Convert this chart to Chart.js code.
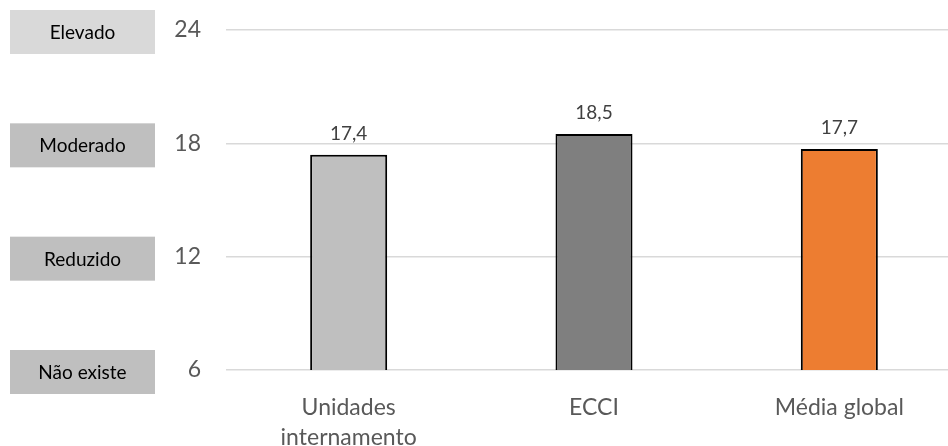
<!DOCTYPE html>
<html><head><meta charset="utf-8">
<script src="https://cdn.jsdelivr.net/npm/chart.js@4"></script>
<style>
html,body{margin:0;padding:0;background:#fff;overflow:hidden}
#wrap{width:962px;height:446px;position:relative}
</style>
</head><body>
<div id="wrap"><canvas id="c"></canvas></div>
<script>
// Risk score per unit, shown against the qualitative level bands
const categories = [["Unidades", "internamento"], "ECCI", "Média global"];
const scores = [17.4, 18.5, 17.7];
const tickValues = [6, 12, 18, 24];
const levelNames = ["Não existe", "Reduzido", "Moderado", "Elevado"];

const barColors = ["#bfbfbf", "#7f7f7f", "#ed7d31"];
const levelColors = ["#bfbfbf", "#bfbfbf", "#bfbfbf", "#d9d9d9"];
const FONT = "Lato, 'Open Sans', sans-serif";

const fmt = v => v.toFixed(1).replace('.', ',');

// Grey boxes naming each level, drawn beside the matching tick
const levelBoxes = {
  id: 'levelBoxes',
  afterDraw(chart) {
    const ctx = chart.ctx, y = chart.scales.y;
    ctx.save();
    ctx.font = "19px " + FONT;
    ctx.textAlign = 'center';
    ctx.textBaseline = 'middle';
    tickValues.forEach((t, i) => {
      const cy = y.getPixelForValue(t) + 2;
      const bx = 10, bw = 145, bh = 44;
      ctx.fillStyle = levelColors[i];
      ctx.fillRect(bx, cy - bh / 2, bw, bh);
      ctx.fillStyle = '#000';
      ctx.fillText(levelNames[i], bx + bw / 2, cy + 1);
    });
    ctx.restore();
  }
};

// Value printed above each bar
const valueLabels = {
  id: 'valueLabels',
  afterDatasetsDraw(chart) {
    const ctx = chart.ctx;
    const meta = chart.getDatasetMeta(0);
    ctx.save();
    ctx.font = "19px " + FONT;
    ctx.fillStyle = '#404040';
    ctx.textAlign = 'center';
    ctx.textBaseline = 'middle';
    meta.data.forEach((bar, i) => {
      ctx.fillText(fmt(scores[i]), bar.x, bar.y - 21);
    });
    ctx.restore();
  }
};

new Chart(document.getElementById('c'), {
  type: 'bar',
  data: {
    labels: categories,
    datasets: [{
      data: scores,
      backgroundColor: barColors,
      borderColor: '#000',
      borderWidth: 2,
      categoryPercentage: 1,
      barPercentage: 0.314
    }]
  },
  options: {
    responsive: true,
    maintainAspectRatio: false,
    animation: false,
    layout: { padding: { top: 30, left: 0, right: 0, bottom: 0 } },
    plugins: { legend: { display: false }, tooltip: { enabled: false } },
    scales: {
      x: {
        grid: { display: false },
        border: { display: false },
        ticks: {
          color: '#595959',
          font: { family: FONT, size: 23, lineHeight: 1.3 },
          padding: 15,
          maxRotation: 0
        },
        afterFit(s) { s.height = 76; s.paddingTop = 0; s.paddingBottom = 0; }
      },
      y: {
        min: 6, max: 24,
        afterBuildTicks(s) { s.ticks = tickValues.map(v => ({ value: v })); },
        grid: { color: '#d9d9d9', lineWidth: 1.5, drawTicks: false },
        border: { display: false },
        ticks: {
          color: '#595959',
          font: { family: FONT, size: 23 },
          padding: 25
        },
        afterFit(s) { s.width = 226; s.paddingTop = 0; s.paddingBottom = 0; }
      }
    }
  },
  plugins: [levelBoxes, valueLabels]
});
</script>
</body></html>
